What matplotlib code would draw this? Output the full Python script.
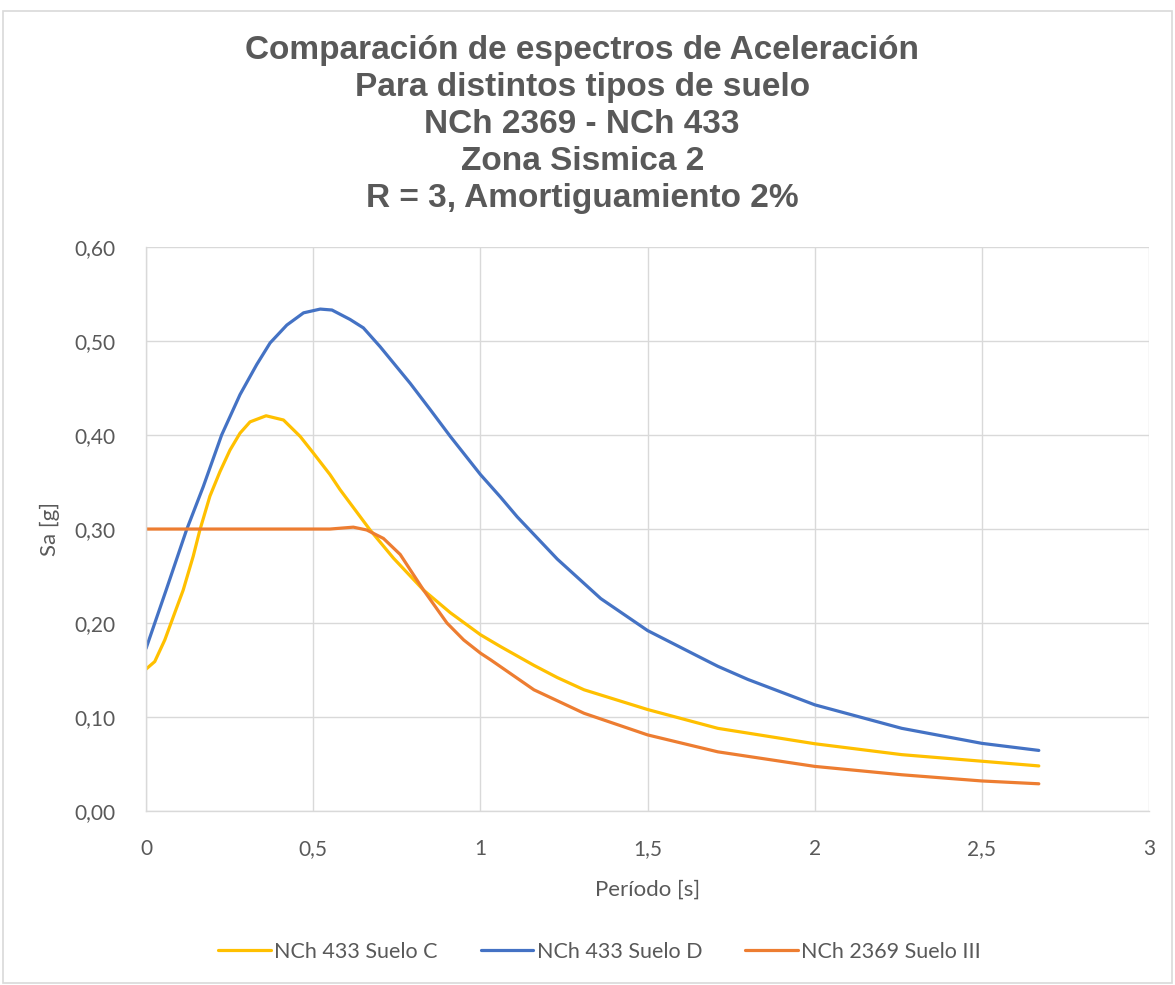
import matplotlib.pyplot as plt
from matplotlib.patches import Rectangle
from matplotlib.ticker import FuncFormatter

# Periodo [s] y Sa [g] para cada espectro
t_suelo_c = [0, 0.026, 0.056, 0.086, 0.111, 0.141, 0.161, 0.191, 0.221, 0.251, 0.281, 0.311,
             0.359, 0.411, 0.461, 0.5, 0.55, 0.58, 0.67, 0.74, 0.83, 0.91, 1.0, 1.06, 1.12,
             1.16, 1.23, 1.31, 1.5, 1.71, 2.0, 2.26, 2.5, 2.67]
sa_suelo_c = [0.151, 0.159, 0.182, 0.211, 0.235, 0.271, 0.299, 0.335, 0.361, 0.384, 0.402, 0.414,
              0.4205, 0.416, 0.3985, 0.381, 0.358, 0.342, 0.299, 0.269, 0.235, 0.211, 0.1876, 0.175,
              0.163, 0.155, 0.142, 0.129, 0.108, 0.088, 0.0716, 0.060, 0.053, 0.048]

t_suelo_d = [0, 0.06, 0.121, 0.171, 0.226, 0.281, 0.331, 0.371, 0.421, 0.471, 0.521, 0.556, 0.61,
             0.65, 0.70, 0.79, 0.85, 0.91, 1.0, 1.06, 1.11, 1.23, 1.36, 1.5, 1.66, 1.71, 1.8,
             2.0, 2.26, 2.5, 2.67]
sa_suelo_d = [0.173, 0.235, 0.299, 0.345, 0.400, 0.443, 0.475, 0.498, 0.517, 0.530, 0.534, 0.533,
              0.523, 0.514, 0.494, 0.455, 0.427, 0.3985, 0.358, 0.334, 0.313, 0.268, 0.226, 0.192,
              0.163, 0.154, 0.140, 0.113, 0.088, 0.072, 0.0645]

t_suelo_iii = [0, 0.55, 0.62, 0.66, 0.71, 0.76, 0.83, 0.90, 0.95, 1.0, 1.03, 1.16, 1.31, 1.5,
               1.71, 2.0, 2.26, 2.5, 2.67]
sa_suelo_iii = [0.300, 0.300, 0.302, 0.299, 0.290, 0.273, 0.235, 0.200, 0.182, 0.168, 0.161,
                0.129, 0.104, 0.081, 0.063, 0.0475, 0.0386, 0.032, 0.029]

series = [("NCh 433 Suelo C", t_suelo_c, sa_suelo_c, "#FFC000"),
          ("NCh 433 Suelo D", t_suelo_d, sa_suelo_d, "#4472C4"),
          ("NCh 2369 Suelo III", t_suelo_iii, sa_suelo_iii, "#ED7D31")]

titulo = ["Comparación de espectros de Aceleración",
          "Para distintos tipos de suelo",
          "NCh 2369 - NCh 433",
          "Zona Sismica 2",
          "R = 3, Amortiguamiento 2%"]

gris = "#595959"
fuente = ["Lato", "DejaVu Sans"]

fig = plt.figure(figsize=(11.75, 9.85), dpi=100, facecolor="white")
ax = fig.add_axes([0.1243, 0.1766, 0.8537, 0.5726])

for nombre, t, sa, color in series:
    ax.plot(t, sa, color=color, lw=2.3, label=nombre,
            solid_capstyle="round", solid_joinstyle="round")

ax.set_xlim(0, 3)
ax.set_ylim(0, 0.6)
ax.set_xticks([0, 0.5, 1, 1.5, 2, 2.5, 3])
ax.set_yticks([0, 0.1, 0.2, 0.3, 0.4, 0.5, 0.6])
ax.xaxis.set_major_formatter(FuncFormatter(lambda v, p: ("%g" % v).replace(".", ",")))
ax.yaxis.set_major_formatter(FuncFormatter(lambda v, p: ("%.2f" % v).replace(".", ",")))
ax.grid(True, color="#d9d9d9", lw=1.0)
ax.set_axisbelow(True)
for lado in ["top", "right"]:
    ax.spines[lado].set_visible(False)
for lado in ["left", "bottom"]:
    ax.spines[lado].set_color("#d9d9d9")
    ax.spines[lado].set_linewidth(1.0)
ax.tick_params(length=0, labelcolor=gris, labelsize=15)
ax.tick_params(axis="y", pad=22)
ax.tick_params(axis="x", pad=20)
for lbl in ax.get_xticklabels() + ax.get_yticklabels():
    lbl.set_family(fuente)

ax.set_xlabel("Período [s]", color=gris, fontsize=16, family=fuente, labelpad=15)
ax.set_ylabel("Sa [g]", color=gris, fontsize=16, family=fuente, labelpad=10)

# titulo en cinco lineas
y0 = 1 - 51 / 985
for i, linea in enumerate(titulo):
    fig.text(0.4955, y0 - i * 36.8 / 985, linea, ha="center", va="center",
             fontsize=24, fontweight="bold", color=gris, family="Liberation Sans")

ley = fig.legend(loc="center", bbox_to_anchor=(0.5102, 1 - 952 / 985), ncol=3, frameon=False,
                 handlelength=2.45, handletextpad=0.15, columnspacing=2.0,
                 prop={"family": fuente, "size": 15.5})
for txt in ley.get_texts():
    txt.set_color(gris)

# marco del grafico
fig.patches.append(Rectangle((3 / 1175, 2 / 985), 1 - 6 / 1175, 1 - 13 / 985,
                             transform=fig.transFigure, fill=False, ec="#d9d9d9", lw=1.2))

fig.savefig("out.png", dpi=100, facecolor="white")
